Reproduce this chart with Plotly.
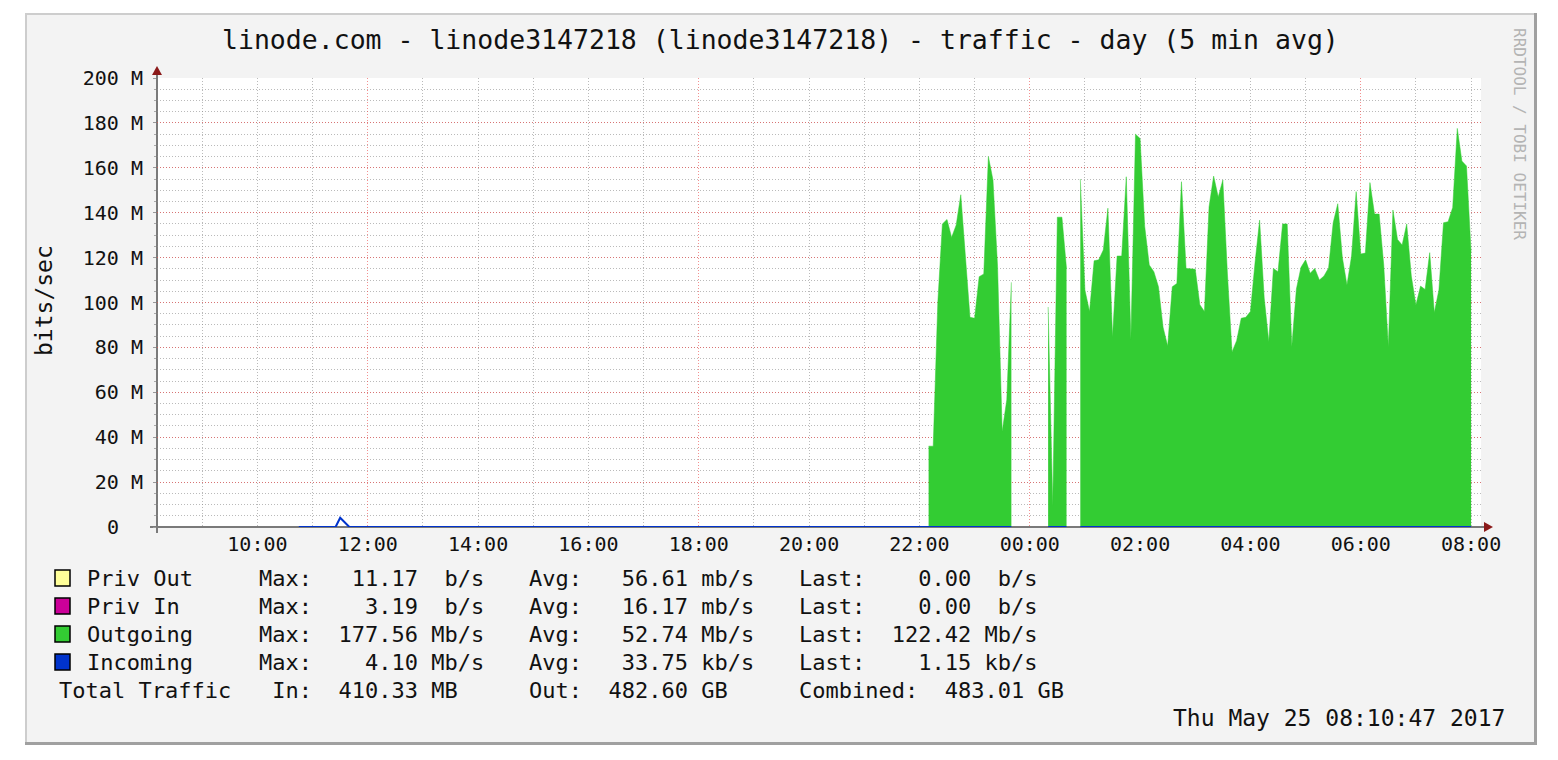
import pandas as pd
import plotly.graph_objects as go

# ---------------- data ----------------
title_text = "linode.com - linode3147218 (linode3147218) - traffic - day (5 min avg)"
y_label = "bits/sec"
watermark = "RRDTOOL / TOBI OETIKER"
timestamp_text = "Thu May 25 08:10:47 2017"

window_start = "2017-05-24 08:10:47"
window_end = "2017-05-25 08:10:47"

y_tick_values = [0, 20, 40, 60, 80, 100, 120, 140, 160, 180, 200]
y_tick_labels = ["0\u00a0\u00a0", "20 M", "40 M", "60 M", "80 M", "100 M",
                 "120 M", "140 M", "160 M", "180 M", "200 M"]

# Outgoing, Mbit/s, one value per 5 minutes starting 22:10 (None = unknown)
outgoing_start = "2017-05-24 22:10"
outgoing_mbps = [
    36, 36, 100, 135, 137, 129, 134.5, 148, 120.7, 93.4,
    93, 111.5, 112.7, 165, 154.6, 116, 42.5, 56.6, 109, None,
    None, None, None, None, None, None, 98, 9.4, 138, 138,
    115, None, None, 155, 105.6, 96, 118.6, 119, 123.4, 142,
    84.5, 120.7, 120.7, 156, 83.6, 175, 173, 134, 116.7, 113.7,
    107, 89, 80.6, 107, 108.5, 153.8, 115.2, 115, 114.8, 99,
    96, 142.5, 156.3, 147, 154.6, 112.7, 78, 83, 93, 93.4,
    96, 117.7, 136.7, 102, 82.5, 115.2, 113.7, 135, 135, 80.3,
    106, 115.7, 119, 113, 115.2, 110, 111.8, 115.4, 135.5, 144,
    120, 107.8, 120.7, 149.4, 121.6, 122, 153.4, 139.4, 139.4, 116.7,
    80.3, 141.2, 128.1, 125.6, 135, 111.8, 98.9, 107.3, 105.8, 122.2,
    95.5, 105.6, 135.5, 136, 142.3, 177.56, 163, 160.8, 122.42,
]

# Incoming, Mbit/s (mostly ~0, one small bump; None = unknown)
incoming_times = ["2017-05-24 10:45", "2017-05-24 11:25", "2017-05-24 11:30",
                  "2017-05-24 11:35", "2017-05-24 11:40", "2017-05-24 23:40",
                  "2017-05-24 23:45", "2017-05-25 00:20", "2017-05-25 00:40",
                  "2017-05-25 00:45", "2017-05-25 00:55", "2017-05-25 08:00"]
incoming_mbps = [0, 0, 4.10, 2.0, 0, 0, None, 0, 0, None, 0, 0.00115]

legend_names = ["Priv Out", "Priv In", "Outgoing", "Incoming"]
legend_colors = ["#ffff99", "#cc0099", "#33cc33", "#0033cc"]
max_vals = ["11.17", "3.19", "177.56", "4.10"]
max_units = ["b/s", "b/s", "Mb/s", "Mb/s"]
avg_vals = ["56.61", "16.17", "52.74", "33.75"]
avg_units = ["mb/s", "mb/s", "Mb/s", "kb/s"]
last_vals = ["0.00", "0.00", "122.42", "1.15"]
last_units = ["b/s", "b/s", "Mb/s", "kb/s"]
total_in = ["410.33", "MB"]
total_out = ["482.60", "GB"]
total_combined = ["483.01", "GB"]

# ---------------- layout helpers (page pixels -> paper) ----------------
FIG_W, FIG_H = 1542, 744
OFF = 8                      # default body margin of the html page
PL, PR, PT, PB = 157, 1481, 78, 527   # plot area in page pixels
PW, PH = PR - PL, PB - PT


def fx(px):
    return (px - PL) / PW


def fy(py):
    return (PB - py) / PH


FONT = "DejaVu Sans Mono"
TXT = "#111111"
GREEN = "#33cc33"

outgoing_times = pd.date_range(outgoing_start, periods=len(outgoing_mbps), freq="5min")

# split the outgoing series at unknown values so each known run is filled on its own
segments, cur_t, cur_v = [], [], []
for t, v in zip(outgoing_times, outgoing_mbps):
    if v is None:
        if cur_t:
            segments.append((cur_t, cur_v))
        cur_t, cur_v = [], []
    else:
        cur_t.append(t)
        cur_v.append(v)
if cur_t:
    segments.append((cur_t, cur_v))

fig = go.Figure()
for seg_t, seg_v in segments:
    fig.add_trace(go.Scatter(
        x=seg_t, y=seg_v, mode="lines", fill="tozeroy",
        line=dict(color=GREEN, width=0.5), fillcolor=GREEN,
        showlegend=False, name="Outgoing"))
# incoming drawn on the overlay x axis (identical range) so that axis is rendered
fig.add_trace(go.Scatter(
    x=pd.to_datetime(incoming_times), y=incoming_mbps, mode="lines",
    xaxis="x2", yaxis="y",
    line=dict(color="#0033cc", width=2), connectgaps=False,
    showlegend=False, name="Incoming"))

grid_minor = "rgba(140,140,140,0.6)"
grid_major = "rgba(235,70,70,0.6)"

fig.update_layout(
    width=FIG_W, height=FIG_H,
    margin=dict(l=PL - OFF, r=FIG_W - (PR - OFF), t=PT - OFF, b=FIG_H - (PB - OFF), pad=0),
    paper_bgcolor="#f3f3f3", plot_bgcolor="#ffffff",
    font=dict(family=FONT, color=TXT, size=20),
    # main x axis: 6-hour major (red) grid, 1-hour minor (grey) grid, no labels
    xaxis=dict(
        type="date", range=[window_start, window_end],
        tick0="2017-05-24 00:00", dtick=6 * 3600 * 1000, showticklabels=False,
        showgrid=True, gridcolor=grid_major, griddash="1px,2px", gridwidth=1,
        zeroline=False, showline=False, ticks="", layer="below traces",
        minor=dict(dtick=3600 * 1000, tick0="2017-05-24 00:00", showgrid=True,
                   gridcolor=grid_minor, griddash="1px,2px", gridwidth=1),
    ),
    # overlay x axis: the 2-hour time labels
    xaxis2=dict(
        type="date", range=[window_start, window_end], overlaying="x", anchor="y",
        side="bottom", tick0="2017-05-24 00:00", dtick=2 * 3600 * 1000,
        tickformat="%H:%M", showgrid=False, zeroline=False, showline=False,
        ticks="", ticklabelstandoff=3,
        tickfont=dict(size=20, family=FONT, color=TXT), layer="below traces",
    ),
    yaxis=dict(
        range=[0, 200], tickvals=y_tick_values, ticktext=y_tick_labels,
        showgrid=True, gridcolor=grid_major, griddash="1px,2px", gridwidth=1,
        zeroline=False, showline=False, ticks="outside", ticklen=3,
        tickcolor="#999999", ticklabelstandoff=6,
        tickfont=dict(size=20, family=FONT, color=TXT), layer="below traces",
        minor=dict(dtick=5, showgrid=True, gridcolor=grid_minor,
                   griddash="1px,2px", gridwidth=1, ticks="outside", ticklen=2,
                   tickcolor="#aaaaaa"),
    ),
    showlegend=False,
)

shapes = []
# white outside of the rrd panel
for x0, y0, x1, y1 in [(-20, -20, 25, 800), (1537, -20, 1600, 800),
                       (-20, -20, 1600, 13), (-20, 745, 1600, 800)]:
    shapes.append(dict(type="rect", xref="paper", yref="paper", layer="below",
                       x0=fx(x0), x1=fx(x1), y0=fy(y0), y1=fy(y1),
                       fillcolor="#ffffff", line=dict(width=0)))
# panel border (light top/left, dark bottom/right)
shapes += [
    dict(type="line", xref="paper", yref="paper", x0=fx(25), x1=fx(1537), y0=fy(14), y1=fy(14),
         line=dict(color="#cdcdcd", width=2)),
    dict(type="line", xref="paper", yref="paper", x0=fx(26), x1=fx(26), y0=fy(13), y1=fy(745),
         line=dict(color="#cdcdcd", width=2)),
    dict(type="line", xref="paper", yref="paper", x0=fx(25), x1=fx(1537), y0=fy(743.5), y1=fy(743.5),
         line=dict(color="#a0a0a0", width=3)),
    dict(type="line", xref="paper", yref="paper", x0=fx(1535.5), x1=fx(1535.5), y0=fy(13), y1=fy(745),
         line=dict(color="#a0a0a0", width=3)),
]
# axes lines
shapes += [
    dict(type="line", xref="paper", yref="paper", layer="below", x0=fx(150), x1=fx(1486),
         y0=fy(527), y1=fy(527), line=dict(color="#7a7a7a", width=2)),
    dict(type="line", xref="paper", yref="paper", layer="below", x0=fx(157), x1=fx(157),
         y0=fy(533), y1=fy(72), line=dict(color="#7a7a7a", width=2)),
]
# arrows
shapes += [
    dict(type="path", xref="paper", yref="paper",
         path=f"M {fx(152)} {fy(75)} L {fx(157)} {fy(66)} L {fx(162)} {fy(75)} Z",
         fillcolor="#8b1a1a", line=dict(width=0)),
    dict(type="path", xref="paper", yref="paper",
         path=f"M {fx(1484)} {fy(522)} L {fx(1493)} {fy(527)} L {fx(1484)} {fy(532)} Z",
         fillcolor="#8b1a1a", line=dict(width=0)),
]

annotations = [
    dict(text=title_text, x=fx(780), y=fy(40), xref="paper", yref="paper",
         showarrow=False, xanchor="center", yanchor="middle",
         font=dict(size=26.5, family=FONT, color=TXT)),
    dict(text=y_label, x=fx(44), y=fy(301), xref="paper", yref="paper",
         showarrow=False, textangle=-90, xanchor="center", yanchor="middle",
         font=dict(size=23, family=FONT, color=TXT)),
    dict(text=watermark, x=fx(1520), y=fy(134), xref="paper", yref="paper",
         showarrow=False, textangle=90, xanchor="center", yanchor="middle",
         font=dict(size=16, family=FONT, color="#b4b4b4")),
    dict(text=timestamp_text, x=fx(1507), y=fy(718), xref="paper", yref="paper",
         showarrow=False, xanchor="right", yanchor="middle",
         font=dict(size=23, family=FONT, color=TXT)),
]

LF = dict(size=22, family=FONT, color=TXT)
row_y = [578, 606, 634, 662, 690]


def add_text(txt, px, py, anchor="left"):
    annotations.append(dict(text=txt, x=fx(px), y=fy(py), xref="paper", yref="paper",
                            showarrow=False, xanchor=anchor, yanchor="middle", font=LF))


for i, name in enumerate(legend_names):
    y = row_y[i]
    shapes.append(dict(type="rect", xref="paper", yref="paper",
                       x0=fx(55), x1=fx(70), y0=fy(y + 8), y1=fy(y - 8),
                       fillcolor=legend_colors[i], line=dict(color="#000000", width=1.5)))
    add_text(name, 85, y)
    add_text(f"Max:{max_vals[i]:>8} {max_units[i]:>4}", 257, y)
    add_text(f"Avg:{avg_vals[i]:>8} {avg_units[i]:<4}", 527, y)
    add_text(f"Last:{last_vals[i]:>8} {last_units[i]:>4}", 797, y)

add_text("Total Traffic", 57, row_y[4])
add_text(f" In:{total_in[0]:>8} {total_in[1]}", 257, row_y[4])
add_text(f"Out:{total_out[0]:>8} {total_out[1]}", 527, row_y[4])
add_text(f"Combined:{total_combined[0]:>8} {total_combined[1]}", 797, row_y[4])

fig.update_layout(shapes=shapes, annotations=annotations)
fig.write_html("out.html")
